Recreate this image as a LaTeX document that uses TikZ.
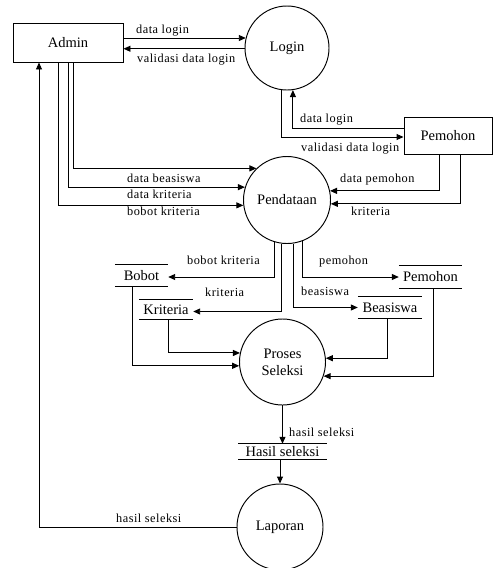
\documentclass[tikz,border=0pt]{standalone}
\usepackage{fontspec}
\setmainfont{Liberation Serif}
\newfontfamily\lblfont[LetterSpace=4]{Liberation Serif}
\usetikzlibrary{arrows.meta}
\begin{document}
\begin{tikzpicture}[x=1pt,y=-1pt,
  line/.style={draw, line width=0.95pt},
  flow/.style={line, -{Triangle[length=7pt,width=6pt]}},
  entity/.style={draw, line width=0.95pt, minimum width=#1, inner sep=0pt,
    font=\fontsize{14.5}{17}\selectfont},
  process/.style={draw, circle, line width=0.95pt, minimum size=#1, inner sep=0pt,
    align=center, font=\fontsize{14.5}{17}\selectfont},
  store/.style={minimum width=#1, inner sep=0pt, font=\fontsize{14.5}{17}\selectfont},
  lbl/.style={anchor=base west, inner sep=0pt, font=\lblfont\fontsize{12.3}{14}\selectfont}
]
\fill[white] (0,0) rectangle (493,568);
\useasboundingbox (0,0) rectangle (493,568);

% external entities
\node[entity=110pt, minimum height=39pt] (admin) at (68,42.5) {Admin};
\node[entity=88pt, minimum height=37pt] (pemohonE) at (448,135.5) {Pemohon};

% processes
\node[process=84pt] (login) at (287,48) {Login};
\node[process=87pt] (pendataan) at (287,200) {Pendataan};
\node[process=86pt] (proses) at (282.5,362) {Proses\\Seleksi};
\node[process=86pt] (laporan) at (280,527) {Laporan};

% data stores
\node[store=53pt, minimum height=21pt] (bobot) at (141.5,275.5) {Bobot};
\node[store=54pt, minimum height=19pt] (kriteria) at (166,309.5) {Kriteria};
\node[store=63pt, minimum height=22pt] (pemohonS) at (430.5,277) {Pemohon};
\node[store=64pt, minimum height=21pt] (beasiswa) at (390,307.5) {Beasiswa};
\node[store=88pt, minimum height=15pt] (hasil) at (282.5,451.5) {Hasil seleksi};
\foreach \s in {bobot,kriteria,pemohonS,beasiswa,hasil}
  \draw[line] (\s.north west) -- (\s.north east) (\s.south west) -- (\s.south east);

% Admin <-> Login
\coordinate (a1) at ([yshift=4.5pt]admin.east);
\draw[flow] (a1) -- (a1 -| login.166);
\draw[flow] (login.181) -- (login.181 -| admin.east);
\node[lbl] at (136,33) {data login};
\node[lbl] at (137,62.5) {validasi data login};

% Login <-> Pemohon
\draw[flow] (login.263) |- ([yshift=-1.5pt]pemohonE.west);
\draw[flow] ([yshift=7.5pt]pemohonE.west) -| (login.278);
\node[lbl] at (300,122) {data login};
\node[lbl] at (301,151) {validasi data login};

% Admin -> Pendataan
\draw[flow] ([xshift=5pt]admin.south) |- (pendataan.134);
\draw[flow] (admin.south) |- (pendataan.163);
\draw[flow] ([xshift=-10pt]admin.south) |- (pendataan.187);
\node[lbl] at (127,182) {data beasiswa};
\node[lbl] at (127,198.7) {data kriteria};
\node[lbl] at (127,215) {bobot kriteria};

% Pemohon -> Pendataan
\draw[flow] ([xshift=-9pt]pemohonE.south) |- (pendataan.12);
\draw[flow] ([xshift=12pt]pemohonE.south) |- (pendataan.355);
\node[lbl] at (340,182.3) {data pemohon};
\node[lbl] at (351,215) {kriteria};

% Pendataan -> data stores
\draw[flow] (pendataan.254) |- ([yshift=-1.5pt]bobot.east);
\draw[flow] (pendataan.263) |- ([yshift=-2pt]kriteria.east);
\draw[flow] (pendataan.278) |- (beasiswa.west);
\draw[flow] (pendataan.290) |- (pemohonS.west);
\node[lbl] at (187,264.7) {bobot kriteria};
\node[lbl] at (205,296) {kriteria};
\node[lbl] at (319,264) {pemohon};
\node[lbl] at (301,295.7) {beasiswa};

% data stores -> Proses Seleksi
\draw[flow] ([xshift=2pt]kriteria.south) |- (proses.168);
\draw[flow] ([xshift=-9.5pt]bobot.south) |- (proses.185);
\draw[flow] ([xshift=-3pt]beasiswa.south) |- (proses.5);
\draw[flow] ([xshift=2.5pt]pemohonS.south) |- (proses.341);

% Proses Seleksi -> Hasil seleksi -> Laporan -> Admin
\draw[flow] (proses.south) -- (hasil.north);
\node[lbl] at (289,436.7) {hasil seleksi};
\coordinate (h1) at (hasil.south -| laporan.north);
\draw[flow] (h1) -- (laporan.north);
\draw[flow] (laporan.west) -| ([xshift=-29pt]admin.south);
\node[lbl] at (116,522) {hasil seleksi};
\end{tikzpicture}
\end{document}
